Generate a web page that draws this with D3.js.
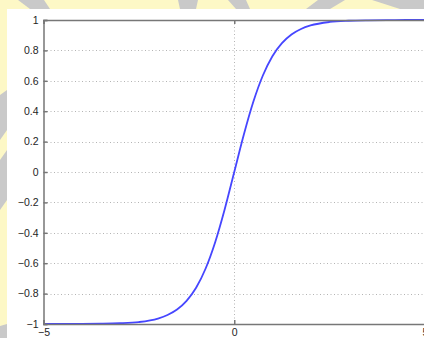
<!DOCTYPE html>
<html>
<head>
<meta charset="utf-8">
<script src="https://cdn.jsdelivr.net/npm/d3@7"></script>
<style>
  body { margin: 0; padding: 0; overflow: hidden; }
  svg { display: block; }
</style>
</head>
<body>
<div id="graph"></div>
<script>
const WIDTH = 424;
const HEIGHT = 338;

// values
const xValues = [-5, -4.5, -4, -3.5, -3, -2.5, -2, -1.75, -1.5, -1.25, -1, -0.75, -0.5, -0.25, 0,
  0.25, 0.5, 0.75, 1, 1.25, 1.5, 1.75, 2, 2.5, 3, 3.5, 4, 4.5, 5];
const yValues = [-1, -1, -0.999, -0.998, -0.995, -0.987, -0.964, -0.941, -0.905, -0.848, -0.762, -0.635, -0.462, -0.245, 0,
  0.245, 0.462, 0.635, 0.762, 0.848, 0.905, 0.941, 0.964, 0.987, 0.995, 0.998, 0.999, 1, 1];
const yTicks = [-1, -0.8, -0.6, -0.4, -0.2, 0, 0.2, 0.4, 0.6, 0.8, 1];
const xTicks = [-5, 0, 5];

const margin = { left: 43.5, top: 20, right: -1, bottom: 14 };

let svg = d3.select("#graph")
  .append("svg")
  .attr("width", WIDTH)
  .attr("height", HEIGHT);

// watermark background behind the white panel
svg.append("rect")
  .attr("width", WIDTH)
  .attr("height", HEIGHT)
  .attr("fill", "#fdf8c6");
const stripes = [
  [[18, 0], [44, 0], [50, 9], [30, 9]],
  [[178, 0], [198, 0], [196, 9], [180, 9]],
  [[228, 0], [246, 0], [250, 9], [236, 9]],
  [[318, 0], [345, 0], [330, 9], [306, 9]],
  [[372, 0], [424, 0], [424, 9], [400, 9]],
  [[0, 95], [7, 90], [7, 130], [0, 140]],
  [[0, 160], [7, 150], [7, 200], [0, 210]],
  [[0, 326], [7, 324], [7, 338], [0, 338]]
];
svg.selectAll(".stripe")
  .data(stripes)
  .enter()
  .append("polygon")
  .attr("class", "stripe")
  .attr("points", d => d.map(p => p.join(",")).join(" "))
  .attr("fill", "#c9c9c9");

svg.append("rect")
  .attr("x", 7)
  .attr("y", 9)
  .attr("width", WIDTH)
  .attr("height", HEIGHT)
  .attr("fill", "#ffffff");

let xAxis = d3.scaleLinear()
  .domain([-5, 5])
  .range([margin.left, WIDTH - margin.right]);
let yAxis = d3.scaleLinear()
  .domain([-1, 1])
  .range([HEIGHT - margin.bottom, margin.top]);

// dotted grid
svg.append("g")
  .selectAll("line")
  .data(yTicks.slice(1, -1))
  .enter()
  .append("line")
  .attr("x1", xAxis(-5))
  .attr("x2", xAxis(5))
  .attr("y1", d => Math.round(yAxis(d)) + 0.5)
  .attr("y2", d => Math.round(yAxis(d)) + 0.5)
  .attr("stroke", "#b4b4b4")
  .attr("stroke-dasharray", "1,2.5");
svg.append("g")
  .selectAll("line")
  .data(xTicks.slice(1, -1))
  .enter()
  .append("line")
  .attr("x1", d => Math.round(xAxis(d)) + 0.5)
  .attr("x2", d => Math.round(xAxis(d)) + 0.5)
  .attr("y1", yAxis(1))
  .attr("y2", yAxis(-1))
  .attr("stroke", "#b4b4b4")
  .attr("stroke-dasharray", "1,2.5");

// curve
let line = d3.line()
  .x((d, i) => xAxis(xValues[i]))
  .y(d => yAxis(d))
  .curve(d3.curveMonotoneX);
svg.append("path")
  .datum(yValues)
  .attr("d", line)
  .attr("fill", "none")
  .attr("stroke", "#4646ff")
  .attr("stroke-width", 1.8);

// axes with inward ticks
let left = svg.append("g")
  .attr("transform", `translate(${xAxis(-5)},0)`)
  .call(d3.axisLeft(yAxis).tickValues(yTicks).tickSize(-4).tickPadding(5)
    .tickFormat(d => d3.format("")(d).replace("-", "\u2212")));
let bottom = svg.append("g")
  .attr("transform", `translate(0,${yAxis(-1)})`)
  .call(d3.axisBottom(xAxis).tickValues(xTicks).tickSize(-4).tickPadding(5)
    .tickFormat(d => String(d).replace("-", "\u2212")));
svg.append("g")
  .attr("transform", `translate(0,${yAxis(1)})`)
  .call(d3.axisTop(xAxis).tickValues(xTicks).tickSize(-4).tickFormat(""));

[left, bottom].forEach(g => {
  g.selectAll("text")
    .attr("fill", "#1e1e1e")
    .style("font-family", "Liberation Sans, Arial, sans-serif")
    .style("font-size", "10.5px");
});
svg.selectAll(".domain, .tick line")
  .attr("stroke", "#777")
  .attr("stroke-width", 1.5);
</script>
</body>
</html>
